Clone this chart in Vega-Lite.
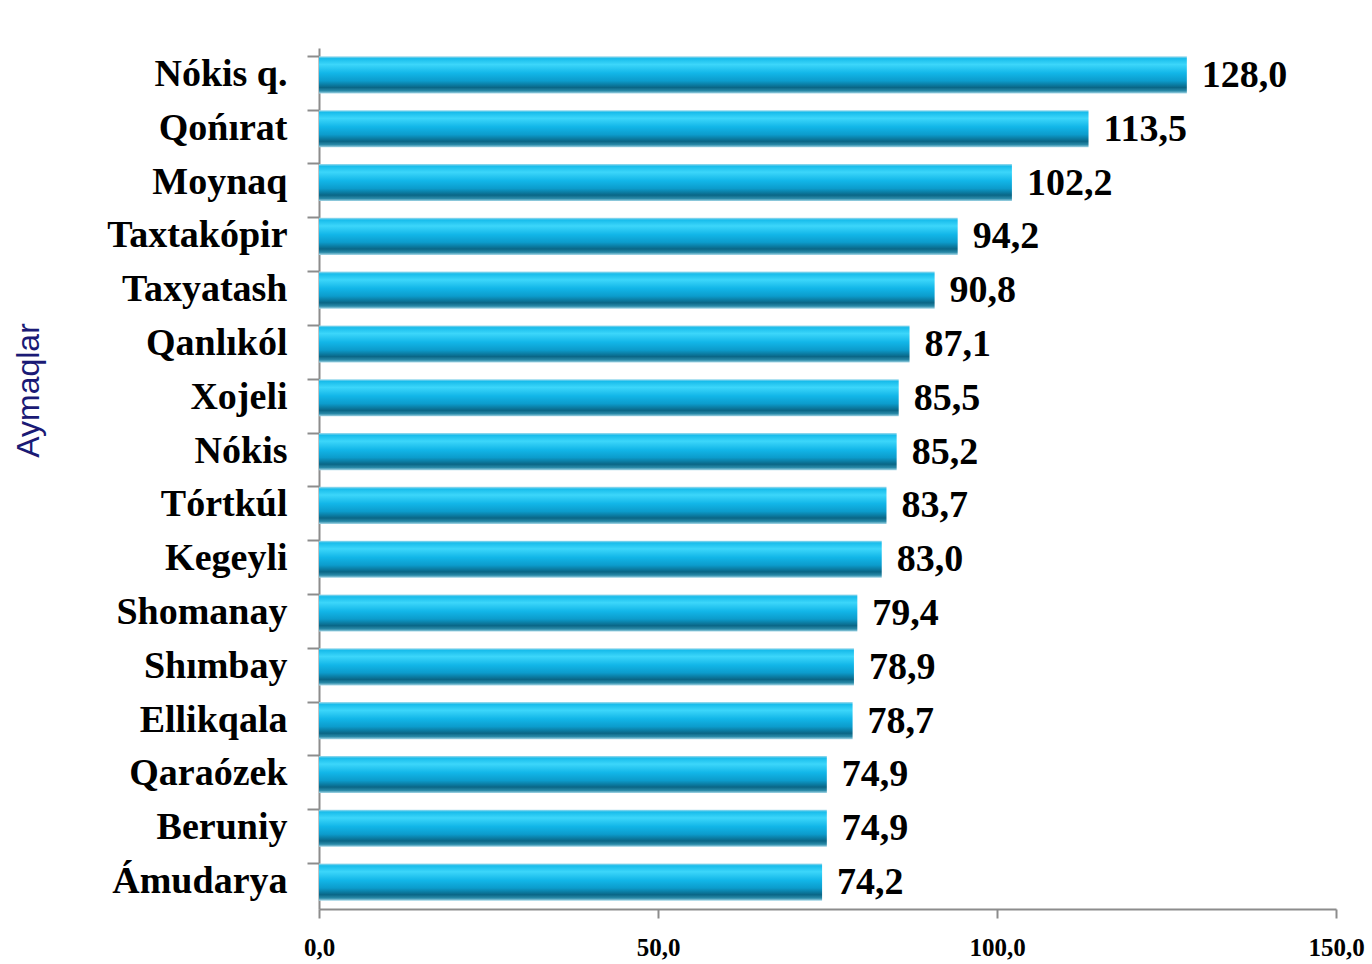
{
  "$schema": "https://vega.github.io/schema/vega-lite/v6.json",
  "autosize": {"type": "none"},
  "width": 1017,
  "height": 861,
  "padding": {"left": 319, "top": 48, "right": 36, "bottom": 55},
  "background": "#FFFFFF",
  "config": {
    "view": {"stroke": null},
    "locale": {"number": {"decimal": ",", "thousands": " ", "grouping": [3], "currency": ["", ""]}}
  },
  "data": {
    "values": [
      {"district": "Nókis q.", "value": 128.0},
      {"district": "Qońırat", "value": 113.5},
      {"district": "Moynaq", "value": 102.2},
      {"district": "Taxtakópir", "value": 94.2},
      {"district": "Taxyatash", "value": 90.8},
      {"district": "Qanlıkól", "value": 87.1},
      {"district": "Xojeli", "value": 85.5},
      {"district": "Nókis", "value": 85.2},
      {"district": "Tórtkúl", "value": 83.7},
      {"district": "Kegeyli", "value": 83.0},
      {"district": "Shomanay", "value": 79.4},
      {"district": "Shımbay", "value": 78.9},
      {"district": "Ellikqala", "value": 78.7},
      {"district": "Qaraózek", "value": 74.9},
      {"district": "Beruniy", "value": 74.9},
      {"district": "Ámudarya", "value": 74.2}
    ]
  },
  "encoding": {
    "y": {
      "field": "district",
      "type": "nominal",
      "sort": null,
      "scale": {"paddingInner": 0.31, "paddingOuter": 0.155},
      "axis": {
        "title": "Aymaqlar",
        "titleFont": "Liberation Sans",
        "titleFontWeight": "normal",
        "titleFontSize": 32,
        "titleColor": "#1A1A75",
        "titleAngle": -90,
        "titleX": -291,
        "titleY": 342,
        "titleAlign": "center",
        "titleBaseline": "middle",
        "labelFont": "Liberation Serif",
        "labelFontWeight": "bold",
        "labelFontSize": 38,
        "labelColor": "#000000",
        "labelPadding": 20,
        "tickSize": 12,
        "tickColor": "#8C8C8C",
        "tickWidth": 2,
        "bandPosition": 0,
        "domainColor": "#8C8C8C",
        "domainWidth": 2,
        "labelLimit": 400
      }
    },
    "x": {
      "field": "value",
      "type": "quantitative",
      "scale": {"domain": [0, 150], "nice": false},
      "axis": {
        "title": null,
        "values": [0, 50, 100, 150],
        "format": ".1f",
        "labelFont": "Liberation Serif",
        "labelFontWeight": "bold",
        "labelFontSize": 25,
        "labelColor": "#000000",
        "labelPadding": 17,
        "tickSize": 9,
        "tickColor": "#8C8C8C",
        "tickWidth": 2,
        "domainColor": "#8C8C8C",
        "domainWidth": 2,
        "grid": false,
        "labelFlush": false
      }
    }
  },
  "layer": [
    {
      "mark": {
        "type": "bar",
        "color": {
          "gradient": "linear",
          "x1": 0, "y1": 0, "x2": 0, "y2": 1,
          "stops": [
            {"offset": 0, "color": "#A8DCEC"},
            {"offset": 0.06, "color": "#18BCEB"},
            {"offset": 0.22, "color": "#3CD6FA"},
            {"offset": 0.45, "color": "#12B6E8"},
            {"offset": 0.66, "color": "#0C9CCC"},
            {"offset": 0.84, "color": "#0A6686"},
            {"offset": 0.93, "color": "#2A8AA8"},
            {"offset": 1, "color": "#A6D8E8"}
          ]
        }
      }
    },
    {
      "mark": {
        "type": "text",
        "align": "left",
        "baseline": "middle",
        "dx": 15,
        "dy": 1,
        "font": "Liberation Serif",
        "fontWeight": "bold",
        "fontSize": 38,
        "color": "#000000"
      },
      "encoding": {
        "text": {"field": "value", "type": "quantitative", "format": ".1f"}
      }
    }
  ]
}
